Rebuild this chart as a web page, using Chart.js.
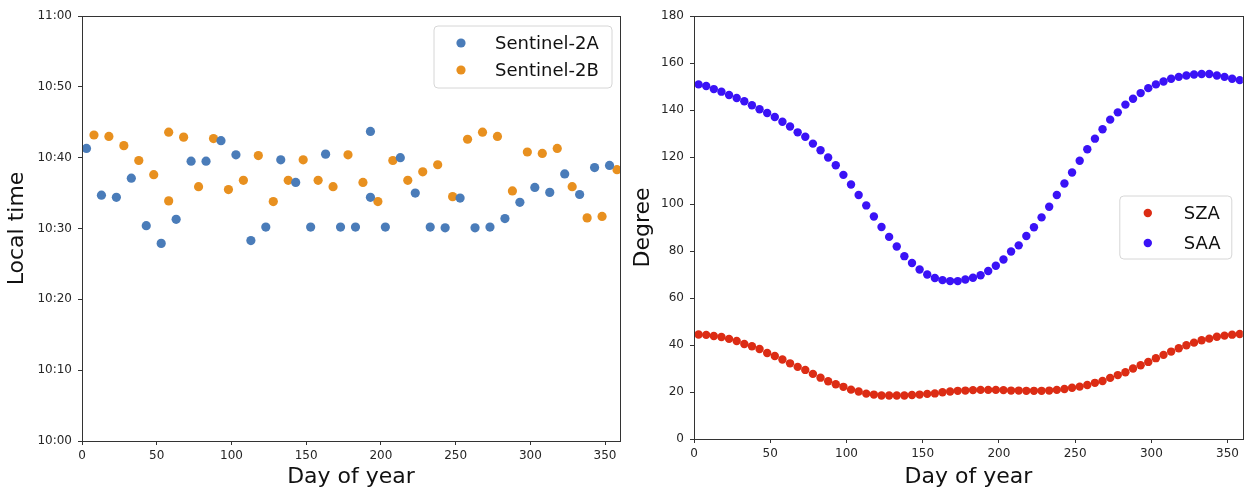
<!DOCTYPE html>
<html>
<head>
<meta charset="utf-8">
<script src="https://cdn.jsdelivr.net/npm/chart.js@4.4.1/dist/chart.umd.min.js"></script>
<style>
  html, body { margin: 0; padding: 0; background: #ffffff; }
  body { width: 1247px; height: 490px; position: relative; overflow: hidden; }
  #wrapL { position: absolute; left: 0; top: 0; width: 625px; height: 490px; }
  #wrapR { position: absolute; left: 625px; top: 0; width: 622px; height: 490px; }
</style>
</head>
<body>
<div id="wrapL"><canvas id="left" width="625" height="490"></canvas></div>
<div id="wrapR"><canvas id="right" width="622" height="490"></canvas></div>
<script>
// ---------- Left panel: overpass local time (minutes after 10:00) ----------
const s2aDays = [3, 13, 23, 33, 43, 53, 63, 73, 83, 93, 103, 113, 123, 133, 143, 153, 163, 173, 183, 193, 193, 203, 213, 223, 233, 243, 253, 263, 273, 283, 293, 303, 313, 323, 333, 343, 353];
const s2aMinutes = [41.3, 34.7, 34.4, 37.1, 30.4, 27.9, 31.3, 39.5, 39.5, 42.4, 40.4, 28.3, 30.2, 39.7, 36.5, 30.2, 40.5, 30.2, 30.2, 43.7, 34.4, 30.2, 40.0, 35.0, 30.2, 30.1, 34.3, 30.1, 30.2, 31.4, 33.7, 35.8, 35.1, 37.7, 34.8, 38.6, 38.9];
const s2bDays = [8, 18, 28, 38, 48, 58, 58, 68, 78, 88, 98, 108, 118, 128, 138, 148, 158, 168, 178, 188, 198, 208, 218, 228, 238, 248, 258, 268, 278, 288, 298, 308, 318, 328, 338, 348, 358];
const s2bMinutes = [43.2, 43.0, 41.7, 39.6, 37.6, 43.6, 33.9, 42.9, 35.9, 42.7, 35.5, 36.8, 40.3, 33.8, 36.8, 39.7, 36.8, 35.9, 40.4, 36.5, 33.8, 39.6, 36.8, 38.0, 39.0, 34.5, 42.6, 43.6, 43.0, 35.3, 40.8, 40.6, 41.3, 35.9, 31.5, 31.7, 38.3];
const timeTickValues = [0, 10, 20, 30, 40, 50, 60];
const timeTickLabels = ['10:00', '10:10', '10:20', '10:30', '10:40', '10:50', '11:00'];
const dayTickValues = [0, 50, 100, 150, 200, 250, 300, 350];

// ---------- Right panel: solar angles ----------
const angleDays = [3, 8, 13, 18, 23, 28, 33, 38, 43, 48, 53, 58, 63, 68, 73, 78, 83, 88, 93, 98, 103, 108, 113, 118, 123, 128, 133, 138, 143, 148, 153, 158, 163, 168, 173, 178, 183, 188, 193, 198, 203, 208, 213, 218, 223, 228, 233, 238, 243, 248, 253, 258, 263, 268, 273, 278, 283, 288, 293, 298, 303, 308, 313, 318, 323, 328, 333, 338, 343, 348, 353, 358];
const szaValues = [44.5, 44.3, 43.8, 43.4, 42.6, 41.7, 40.4, 39.5, 38.3, 36.6, 35.3, 33.8, 32.2, 30.7, 29.4, 27.7, 26.1, 24.6, 23.3, 22.2, 21.0, 20.2, 19.3, 18.9, 18.5, 18.5, 18.5, 18.5, 18.7, 18.9, 19.2, 19.4, 19.9, 20.2, 20.5, 20.6, 20.8, 20.9, 20.9, 20.9, 20.8, 20.6, 20.6, 20.5, 20.5, 20.5, 20.6, 20.9, 21.3, 21.8, 22.3, 23.0, 23.9, 24.7, 26.0, 27.2, 28.4, 30.0, 31.4, 32.8, 34.4, 35.8, 37.2, 38.6, 39.9, 41.0, 42.0, 42.7, 43.5, 44.0, 44.4, 44.7];
const saaValues = [150.9, 150.2, 148.9, 147.8, 146.4, 145.1, 143.7, 142.0, 140.3, 138.7, 137.0, 135.0, 133.0, 130.5, 128.6, 125.7, 122.9, 119.8, 116.5, 112.4, 108.3, 103.8, 99.4, 94.7, 90.2, 86.0, 81.9, 77.8, 74.9, 72.1, 70.0, 68.5, 67.6, 67.2, 67.2, 67.9, 68.6, 69.7, 71.5, 73.7, 76.4, 79.8, 82.4, 86.4, 90.1, 94.3, 98.8, 103.8, 108.7, 113.4, 118.4, 123.3, 127.8, 131.8, 135.9, 139.0, 142.3, 144.8, 147.2, 149.3, 150.9, 152.1, 153.3, 154.1, 154.7, 155.1, 155.3, 155.3, 154.7, 154.1, 153.3, 152.7];
const degreeTickValues = [0, 20, 40, 60, 80, 100, 120, 140, 160, 180];

const seriesNames = ['Sentinel-2A', 'Sentinel-2B', 'SZA', 'SAA'];
const seriesColors = ['#4a7cb9', '#e8901f', '#dc2c14', '#3a12f6'];

function toPoints(xs, ys) { return xs.map((x, i) => ({ x: x, y: ys[i] })); }

const FONT = '"DejaVu Sans", "Liberation Sans", sans-serif';
const INK = '#262626';

// frame (all four spines) + boxed legend inside the axes
const framePlugin = {
  id: 'frameAndLegend',
  afterDraw(chart, args, opts) {
    const { ctx, chartArea: a } = chart;
    ctx.save();
    ctx.strokeStyle = '#333';
    ctx.lineWidth = 1;
    ctx.strokeRect(Math.round(a.left) + 0.5, Math.round(a.top) + 0.5, Math.round(a.right - a.left), Math.round(a.bottom - a.top));
    const L = opts;
    if (L && L.width) {
      const x0 = a.right - L.marginRight - L.width;
      const y0 = L.center ? (a.top + a.bottom) / 2 - L.height / 2 : a.top + L.marginTop;
      const r = 4;
      ctx.beginPath();
      ctx.moveTo(x0 + r, y0);
      ctx.lineTo(x0 + L.width - r, y0);
      ctx.quadraticCurveTo(x0 + L.width, y0, x0 + L.width, y0 + r);
      ctx.lineTo(x0 + L.width, y0 + L.height - r);
      ctx.quadraticCurveTo(x0 + L.width, y0 + L.height, x0 + L.width - r, y0 + L.height);
      ctx.lineTo(x0 + r, y0 + L.height);
      ctx.quadraticCurveTo(x0, y0 + L.height, x0, y0 + L.height - r);
      ctx.lineTo(x0, y0 + r);
      ctx.quadraticCurveTo(x0, y0, x0 + r, y0);
      ctx.closePath();
      ctx.fillStyle = 'rgba(255,255,255,0.85)';
      ctx.fill();
      ctx.strokeStyle = '#d6d6d6';
      ctx.stroke();
      ctx.font = L.font;
      ctx.textBaseline = 'middle';
      ctx.textAlign = 'left';
      chart.data.datasets.forEach((ds, i) => {
        const cy = y0 + L.firstRow + i * L.rowGap;
        ctx.beginPath();
        ctx.arc(x0 + L.markerX, cy, L.markerR, 0, Math.PI * 2);
        ctx.fillStyle = ds.backgroundColor;
        ctx.fill();
        ctx.fillStyle = '#111';
        ctx.fillText(ds.label, x0 + L.textX, cy + 1);
      });
    }
    ctx.restore();
  }
};

function axisBase(tickValues) {
  return {
    type: 'linear',
    grid: { display: true, drawOnChartArea: false, drawTicks: true, tickLength: 4, color: '#333', lineWidth: 1 },
    border: { display: true, color: '#333', width: 1 },
    afterBuildTicks: (s) => { s.ticks = tickValues.map(v => ({ value: v })); }
  };
}

// ---------- Left chart ----------
const leftX = axisBase(dayTickValues);
Object.assign(leftX, {
  min: 0, max: 360,
  ticks: { autoSkip: false, color: INK, font: { family: FONT, size: 12 }, padding: 4, maxRotation: 0 },
  afterFit: (s) => { s.height = 49; },
  title: { display: true, text: 'Day of year', color: '#111', font: { family: FONT, size: 22 }, padding: { top: 0, bottom: 0 } }
});
const leftY = axisBase(timeTickValues);
Object.assign(leftY, {
  min: 0, max: 60,
  ticks: { autoSkip: false, color: INK, font: { family: FONT, size: 12 }, padding: 6,
    callback: (v) => timeTickLabels[timeTickValues.indexOf(v)] },
  afterFit: (s) => { s.width = 82; },
  title: { display: true, text: 'Local time', color: '#111', font: { family: FONT, size: 22 }, padding: { top: 4, bottom: 0 } }
});

new Chart(document.getElementById('left'), {
  type: 'scatter',
  data: {
    datasets: [
      { label: seriesNames[0], data: toPoints(s2aDays, s2aMinutes), backgroundColor: seriesColors[0], borderWidth: 0, pointRadius: 4.6, clip: 0 },
      { label: seriesNames[1], data: toPoints(s2bDays, s2bMinutes), backgroundColor: seriesColors[1], borderWidth: 0, pointRadius: 4.6, clip: 0 }
    ]
  },
  options: {
    responsive: false, animation: false, devicePixelRatio: 1,
    layout: { padding: { top: 16, right: 5, left: 0, bottom: 0 } },
    plugins: {
      legend: { display: false }, tooltip: { enabled: false },
      frameAndLegend: { width: 178, height: 62, marginRight: 8, marginTop: 10, center: false,
        markerX: 27, markerR: 4.6, textX: 61, firstRow: 17, rowGap: 27, font: '18px ' + FONT }
    },
    scales: { x: leftX, y: leftY }
  },
  plugins: [framePlugin]
});

// ---------- Right chart ----------
const rightX = axisBase(dayTickValues);
Object.assign(rightX, {
  min: 0, max: 360,
  ticks: { autoSkip: false, color: INK, font: { family: FONT, size: 12 }, padding: 4, maxRotation: 0 },
  afterFit: (s) => { s.height = 51; },
  title: { display: true, text: 'Day of year', color: '#111', font: { family: FONT, size: 22 }, padding: { top: 0, bottom: 0 } }
});
const rightY = axisBase(degreeTickValues);
Object.assign(rightY, {
  min: 0, max: 180,
  ticks: { autoSkip: false, color: INK, font: { family: FONT, size: 12 }, padding: 6 },
  afterFit: (s) => { s.width = 69; },
  title: { display: true, text: 'Degree', color: '#111', font: { family: FONT, size: 22 }, padding: { top: 5, bottom: 0 } }
});

new Chart(document.getElementById('right'), {
  type: 'scatter',
  data: {
    datasets: [
      { label: seriesNames[2], data: toPoints(angleDays, szaValues), backgroundColor: seriesColors[2], borderWidth: 0, pointRadius: 4.2, clip: 0 },
      { label: seriesNames[3], data: toPoints(angleDays, saaValues), backgroundColor: seriesColors[3], borderWidth: 0, pointRadius: 4.2, clip: 0 }
    ]
  },
  options: {
    responsive: false, animation: false, devicePixelRatio: 1,
    layout: { padding: { top: 16, right: 1, left: 0, bottom: 0 } },
    plugins: {
      legend: { display: false }, tooltip: { enabled: false },
      frameAndLegend: { width: 112, height: 63, marginRight: 11, center: true,
        markerX: 28, markerR: 4.2, textX: 64, firstRow: 17, rowGap: 30, font: '18px ' + FONT }
    },
    scales: { x: rightX, y: rightY }
  },
  plugins: [framePlugin]
});
</script>
</body>
</html>
